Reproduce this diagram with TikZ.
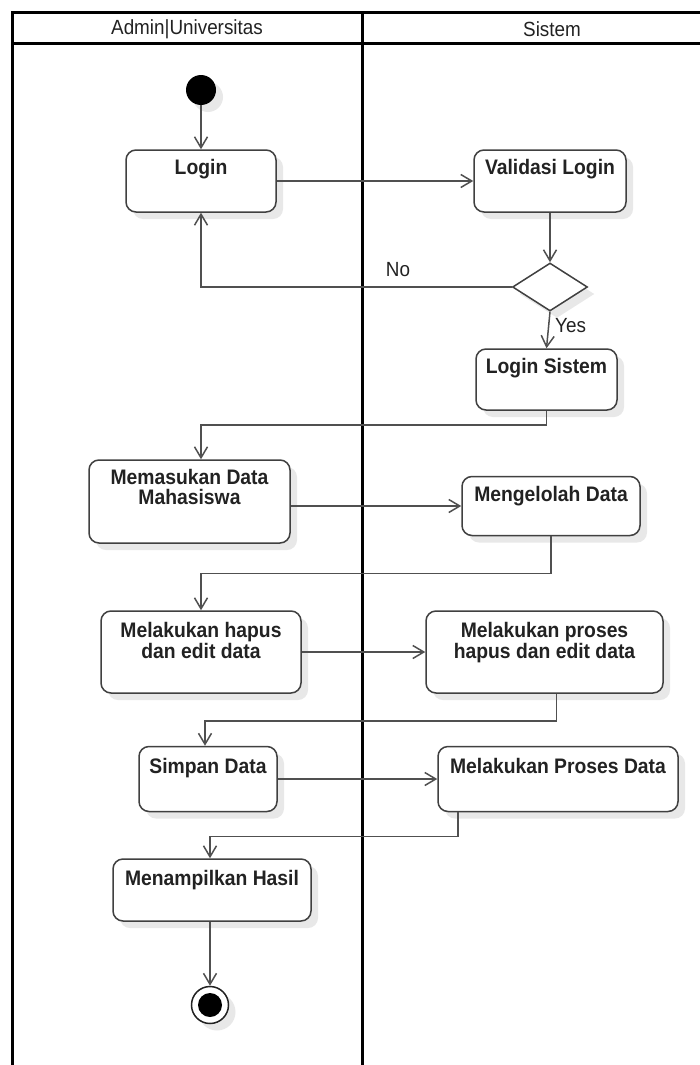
\documentclass[tikz,border=0pt]{standalone}
\usepackage{fontspec}
\setmainfont{Liberation Sans}
\newfontfamily\narrowsans[FakeStretch=0.92]{Liberation Sans}
\usetikzlibrary{arrows.meta,shapes.geometric,shadows}
\definecolor{edge}{HTML}{505050}
\definecolor{boxline}{HTML}{404040}
\definecolor{ink}{HTML}{222222}
\definecolor{shade}{HTML}{E8E8E8}
\begin{document}
\begin{tikzpicture}[x=1pt,y=-1pt,
  lane/.style={line width=3pt, black},
  sh/.style={drop shadow={shadow xshift=7pt,shadow yshift=-7pt,fill=shade,draw=none,opacity=1}},
  act/.style={draw=boxline, line width=1.5pt, rounded corners=10pt, fill=white, sh, inner sep=0pt},
  lbl/.style={anchor=north, align=center, inner sep=0pt, text=ink, font=\narrowsans\fontsize{21}{19.5}\selectfont\bfseries},
  head/.style={text=ink, inner sep=0pt, font=\narrowsans\fontsize{20.5}{20}\selectfont},
  note/.style={text=ink, inner sep=0pt, font=\narrowsans\fontsize{20.5}{20}\selectfont},
  flow/.style={draw=edge, line width=1.5pt, -{Straight Barb[length=11pt,width=13pt]}},
]
\useasboundingbox (0,0) rectangle (700,1065);
\fill[white] (0,0) rectangle (700,1065);

% swimlanes
\draw[lane] (12,1065) -- (12,13) -- (700,13);
\draw[lane] (12,44) -- (700,44);
\draw[lane] (362,13) -- (362,1065);
\node[head] (laneA) at (187,29) {Admin|Universitas};
\node[head] (laneB) at (552,29) {Sistem};

% start / end
\node[circle, fill=black, minimum size=30pt, inner sep=0pt, sh] (start) at (201,90) {};
\node[circle, draw=ink, line width=1.5pt, fill=white, minimum size=37pt, inner sep=0pt, sh] (stop) at (210,1005) {};
\node[circle, fill=black, minimum size=24pt, inner sep=0pt] (stopdot) at (210,1005) {};

% activities
\node[act, minimum width=150pt, minimum height=62pt] (login) at (201,181) {};
\node[lbl] (loginT) at ([yshift=-10pt]login.north) {Login};

\node[act, minimum width=152pt, minimum height=62pt] (valid) at (550,181) {};
\node[lbl] (validT) at ([yshift=-10pt]valid.north) {Validasi Login};

\node[diamond, draw=boxline, line width=1.5pt, fill=white, sh, inner sep=0pt,
      minimum width=75pt, minimum height=48pt] (dec) at (550,287) {};

\node[act, minimum width=141pt, minimum height=61pt] (lsys) at (546.5,379.5) {};
\node[lbl] (lsysT) at ([yshift=-10pt]lsys.north) {Login Sistem};

\node[act, minimum width=201pt, minimum height=83pt] (mem) at (189.5,501.5) {};
\node[lbl] (memT) at ([yshift=-10pt]mem.north) {Memasukan Data\\Mahasiswa};

\node[act, minimum width=178pt, minimum height=59pt] (meng) at (551,506) {};
\node[lbl] (mengT) at ([yshift=-10pt]meng.north) {Mengelolah Data};

\node[act, minimum width=200pt, minimum height=82pt] (hapus) at (201,652) {};
\node[lbl] (hapusT) at ([yshift=-12pt]hapus.north) {Melakukan hapus\\dan edit data};

\node[act, minimum width=237pt, minimum height=82pt] (proses) at (544.5,652) {};
\node[lbl] (prosesT) at ([yshift=-12pt]proses.north) {Melakukan proses\\hapus dan edit data};

\node[act, minimum width=138pt, minimum height=65pt] (simpan) at (208,779) {};
\node[lbl] (simpanT) at ([yshift=-12pt]simpan.north) {Simpan Data};

\node[act, minimum width=240pt, minimum height=65pt] (pdata) at (558,779) {};
\node[lbl] (pdataT) at ([yshift=-12pt]pdata.north) {Melakukan Proses Data};

\node[act, minimum width=198pt, minimum height=62pt] (tampil) at (212,890) {};
\node[lbl] (tampilT) at ([yshift=-12pt]tampil.north) {Menampilkan Hasil};

% control flow
\draw[flow] (start) -- (login.north);
\draw[flow] (login.east) -- (valid.west);
\draw[flow] (valid.south) -- (dec.north);
\draw[flow] (dec.west) -| (login.south);
\node[note] (no) at (398,270) {No};
\draw[flow] (dec.south) -- (lsys.north);
\node[note, anchor=west] (yes) at (555,326) {Yes};
\draw[flow] (lsys.south) -- ++(0,14) -| (mem.north -| login.south);
\draw[flow] (mem.east |- meng.west) -- (meng.west);
\draw[flow] (meng.south) -- ++(0,37) -| (hapus.north);
\draw[flow] (hapus.east) -- (proses.west);
\draw[flow] ([xshift=12pt]proses.south) -- ++(0,27) -| ([xshift=-3pt]simpan.north);
\draw[flow] (simpan.east) -- (pdata.west);
\draw[flow] ([xshift=-100pt]pdata.south) -- ++(0,24) -| ([xshift=-2pt]tampil.north);
\draw[flow] ([xshift=-2pt]tampil.south) -- (stop.north);
\end{tikzpicture}
\end{document}
